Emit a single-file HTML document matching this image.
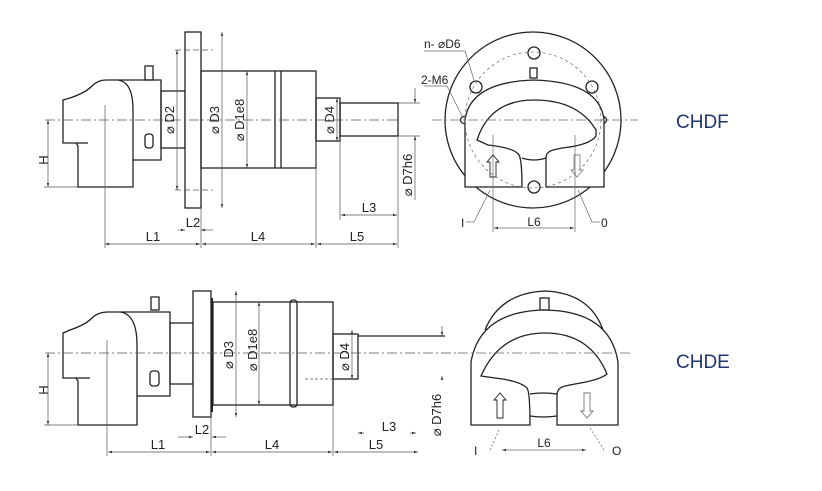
<!DOCTYPE html>
<html><head><meta charset="utf-8"><style>
html,body{margin:0;padding:0;background:#fff;}
svg{display:block}
text{font-family:"Liberation Sans",sans-serif;fill:#222;}
</style></head><body>
<svg width="822" height="491" viewBox="0 0 822 491" xmlns="http://www.w3.org/2000/svg">
<defs>
<marker id="a" viewBox="0 0 10 10" refX="10" refY="5" markerWidth="6" markerHeight="6" orient="auto-start-reverse"><path d="M0,2 L10,5 L0,8 z" fill="#333"/></marker>
</defs>
<g fill="none" stroke="#222" stroke-width="1.3">
<!-- TOP SIDE VIEW -->
<path d="M118,80 L161,80 L161,160 L133,160" fill="#fff"/>
<path d="M63,100 L70,98 Q85,93 92,86 Q98,80 106,80 L118,80 Q133,82 133,110 L133,187 L78,187 L78,146 L76,143 L63,143 Z" fill="#fff"/>
<line x1="76" y1="143" x2="88" y2="143"/>
<rect x="161" y="91" width="24" height="57"/>
<rect x="185" y="32" width="16" height="176" fill="#fff"/>
<rect x="201" y="71" width="115" height="97"/>
<line x1="275" y1="71" x2="275" y2="168"/><line x1="281" y1="71" x2="281" y2="168"/>
<rect x="316" y="98" width="24" height="43"/>
<rect x="340" y="103" width="58" height="33"/>
<rect x="145" y="66" width="8" height="14"/>
<rect x="145" y="134" width="8" height="14" rx="3"/>
</g>
<g fill="none" stroke="#555" stroke-width="0.7">
<line x1="45" y1="120" x2="400" y2="120" stroke-dasharray="10,3,2,3"/>
<line x1="105" y1="105" x2="105" y2="248"/>
<line x1="48" y1="120" x2="48" y2="187" marker-start="url(#a)" marker-end="url(#a)"/>
<line x1="44" y1="187" x2="78" y2="187"/>
<line x1="177" y1="50" x2="177" y2="190" marker-start="url(#a)" marker-end="url(#a)"/>
<line x1="175" y1="50" x2="213" y2="50" stroke-dasharray="6,3"/><line x1="175" y1="190" x2="213" y2="190" stroke-dasharray="6,3"/>
<line x1="222" y1="32" x2="222" y2="208" marker-start="url(#a)" marker-end="url(#a)"/>
<line x1="247" y1="71" x2="247" y2="168" marker-start="url(#a)" marker-end="url(#a)"/>
<line x1="337" y1="98" x2="337" y2="141" marker-start="url(#a)" marker-end="url(#a)"/>
<line x1="415" y1="88" x2="415" y2="103" marker-end="url(#a)"/><line x1="415" y1="136" x2="415" y2="200" marker-start="url(#a)"/>
<line x1="398" y1="103" x2="420" y2="103"/><line x1="398" y1="136" x2="420" y2="136"/>
<line x1="201" y1="208" x2="201" y2="248"/><line x1="316" y1="141" x2="316" y2="248"/><line x1="398" y1="136" x2="398" y2="248"/><line x1="340" y1="141" x2="340" y2="220"/>
<line x1="105" y1="244" x2="200" y2="244" marker-start="url(#a)" marker-end="url(#a)"/>
<line x1="202" y1="244" x2="315" y2="244" marker-start="url(#a)" marker-end="url(#a)"/>
<line x1="317" y1="244" x2="397" y2="244" marker-start="url(#a)" marker-end="url(#a)"/>
<line x1="178" y1="230" x2="185" y2="230" marker-end="url(#a)"/><line x1="201" y1="230" x2="213" y2="230" marker-start="url(#a)"/>
<line x1="341" y1="215" x2="397" y2="215" marker-start="url(#a)" marker-end="url(#a)"/>
</g>
<g font-size="13">
<text x="0" y="0" transform="translate(48,160) rotate(-90)" text-anchor="middle">H</text>
<text x="0" y="0" transform="translate(174,120) rotate(-90)" text-anchor="middle">⌀ D2</text>
<text x="0" y="0" transform="translate(219,120) rotate(-90)" text-anchor="middle">⌀ D3</text>
<text x="0" y="0" transform="translate(244,120) rotate(-90)" text-anchor="middle">⌀ D1e8</text>
<text x="0" y="0" transform="translate(334,120) rotate(-90)" text-anchor="middle">⌀ D4</text>
<text x="0" y="0" transform="translate(412,175) rotate(-90)" text-anchor="middle">⌀ D7h6</text>
<text x="153" y="241" text-anchor="middle">L1</text>
<text x="258" y="241" text-anchor="middle">L4</text>
<text x="357" y="241" text-anchor="middle">L5</text>
<text x="193" y="227" text-anchor="middle">L2</text>
<text x="369" y="212" text-anchor="middle">L3</text>
</g>
<!-- TOP END VIEW -->
<g fill="none" stroke="#222" stroke-width="1.3">
<circle cx="533" cy="120" r="88"/>
<circle cx="534" cy="53" r="6"/><circle cx="476" cy="87" r="6"/><circle cx="592" cy="87" r="6"/><circle cx="534" cy="187" r="6"/>
<circle cx="464" cy="120" r="3.5"/><circle cx="603" cy="120" r="3.5"/>
<rect x="530" y="68" width="7" height="10"/>
<path d="M465,187 L465,120 Q470,82 534,80 Q600,82 604,120 L604,187 L546,187 L546,158 Q546,152 553,150 L562,148 Q590,145 596,136 L596,130 Q578,100 534,100 Q490,100 477,140 L488,145 Q515,148 519,155 Q522,160 522,187 Z" fill="#fff"/>
<path d="M522,158 Q534,162 546,158"/>
<path d="M490,177 L490,162 L487,162 L493,155 L499,162 L496,162 L496,177 Z" stroke-width="0.9"/>
<path d="M574,155 L574,170 L571,170 L577,177 L583,170 L580,170 L580,155 Z" stroke="#888" stroke-width="0.9"/>
</g>
<g fill="none" stroke="#666" stroke-width="0.7">
<circle cx="533" cy="120" r="68" stroke-dasharray="3,3"/>
<line x1="432" y1="120" x2="638" y2="120" stroke-dasharray="10,3,2,3"/>
<line x1="424" y1="51" x2="465" y2="51"/><line x1="465" y1="51" x2="474" y2="80"/>
<line x1="424" y1="86" x2="447" y2="86"/><line x1="447" y1="86" x2="462" y2="116"/>
<line x1="493" y1="135" x2="493" y2="232"/><line x1="575" y1="135" x2="575" y2="232"/>
<line x1="494" y1="228" x2="574" y2="228" marker-start="url(#a)" marker-end="url(#a)"/>
<line x1="466" y1="222" x2="474" y2="222"/><line x1="474" y1="222" x2="490" y2="190"/>
<line x1="600" y1="222" x2="592" y2="222"/><line x1="592" y1="222" x2="578" y2="190"/>
</g>
<g font-size="12">
<text x="424" y="48">n- ⌀D6</text>
<text x="421" y="84">2-M6</text>
<text x="534" y="226" text-anchor="middle">L6</text>
<text x="461" y="227">I</text>
<text x="601" y="227">0</text>
</g>
<text x="676" y="128" font-size="19" style="fill:#1f3570">CHDF</text>
<!-- BOTTOM SIDE VIEW -->
<g fill="none" stroke="#222" stroke-width="1.3">
<path d="M120,312 L170,312 L170,396 L137,396" fill="#fff"/>
<path d="M63,333 L70,330 Q85,325 92,318 Q98,312 108,312 L120,312 Q137,314 137,345 L137,425 L78,425 L78,381 L76,378 L63,378 Z" fill="#fff"/>
<line x1="76" y1="378" x2="90" y2="378"/>
<rect x="170" y="323" width="23" height="61"/>
<rect x="193" y="291" width="18" height="126" fill="#fff"/>
<line x1="212" y1="298" x2="212" y2="412" stroke-width="2"/>
<rect x="213" y="302" width="120" height="103"/>
<rect x="290" y="300" width="7" height="107" rx="3"/>
<rect x="333" y="334" width="25" height="45"/>
<line x1="358" y1="336" x2="445" y2="336"/>
<rect x="151" y="297" width="8" height="13"/>
<rect x="150" y="371" width="9" height="15" rx="3"/>
</g>
<g fill="none" stroke="#555" stroke-width="0.7">
<line x1="45" y1="353" x2="460" y2="353" stroke-dasharray="10,3,2,3"/>
<line x1="107" y1="340" x2="107" y2="456"/>
<line x1="48" y1="353" x2="48" y2="425" marker-start="url(#a)" marker-end="url(#a)"/>
<line x1="44" y1="425" x2="78" y2="425"/>
<line x1="236" y1="291" x2="236" y2="417" marker-start="url(#a)" marker-end="url(#a)"/>
<line x1="259" y1="302" x2="259" y2="405" marker-start="url(#a)" marker-end="url(#a)"/>
<line x1="352" y1="330" x2="352" y2="379" marker-start="url(#a)" marker-end="url(#a)"/>
<line x1="305" y1="379" x2="333" y2="379" stroke-dasharray="3,2"/>
<line x1="442" y1="326" x2="442" y2="336" marker-end="url(#a)"/><line x1="442" y1="376" x2="442" y2="380" marker-start="url(#a)"/>
<line x1="211" y1="417" x2="211" y2="456"/><line x1="333" y1="405" x2="333" y2="456"/>
<line x1="108" y1="452" x2="210" y2="452" marker-start="url(#a)" marker-end="url(#a)"/>
<line x1="212" y1="452" x2="332" y2="452" marker-start="url(#a)" marker-end="url(#a)"/>
<line x1="334" y1="452" x2="418" y2="452" marker-start="url(#a)" marker-end="url(#a)"/>
<line x1="178" y1="437" x2="193" y2="437" marker-end="url(#a)"/><line x1="212" y1="437" x2="226" y2="437" marker-start="url(#a)"/>
<line x1="358" y1="433" x2="364" y2="433" marker-start="url(#a)"/>
<line x1="410" y1="433" x2="416" y2="433" marker-end="url(#a)"/>
</g>
<g font-size="13">
<text x="0" y="0" transform="translate(48,390) rotate(-90)" text-anchor="middle">H</text>
<text x="0" y="0" transform="translate(233,355) rotate(-90)" text-anchor="middle">⌀ D3</text>
<text x="0" y="0" transform="translate(257,350) rotate(-90)" text-anchor="middle">⌀ D1e8</text>
<text x="0" y="0" transform="translate(349,357) rotate(-90)" text-anchor="middle">⌀ D4</text>
<text x="0" y="0" transform="translate(441,415) rotate(-90)" text-anchor="middle">⌀ D7h6</text>
<text x="158" y="449" text-anchor="middle">L1</text>
<text x="272" y="449" text-anchor="middle">L4</text>
<text x="376" y="449" text-anchor="middle">L5</text>
<text x="202" y="434" text-anchor="middle">L2</text>
<text x="389" y="431" text-anchor="middle">L3</text>
</g>
<!-- BOTTOM END VIEW -->
<g fill="none" stroke="#222" stroke-width="1.3">
<path d="M485,330 Q500,293 545,291 Q590,293 603,330"/>
<rect x="540" y="298" width="9" height="12"/>
<path d="M471,425 L471,362 Q480,311 545,310 Q610,311 618,362 L618,425 L557,425 L557,395 Q557,388 565,386 L575,384 Q600,380 607,374 Q590,333 545,333 Q500,333 481,376 L495,378 Q520,381 527,388 Q530,392 530,425 Z" fill="#fff"/>
<path d="M530,394 Q543,392 557,394"/><path d="M530,416 Q543,418 557,416"/>
<path d="M497,418 L497,400 L494,400 L500,393 L506,400 L503,400 L503,418 Z" stroke-width="0.9"/>
<path d="M584,393 L584,411 L581,411 L587,418 L593,411 L590,411 L590,393 Z" stroke="#777" stroke-width="0.9"/>
</g>
<g fill="none" stroke="#666" stroke-width="0.7">
<line x1="458" y1="353" x2="632" y2="353" stroke-dasharray="10,3,2,3"/>
<line x1="502" y1="450" x2="586" y2="450" marker-start="url(#a)" marker-end="url(#a)"/>
<line x1="490" y1="450" x2="500" y2="428" stroke-dasharray="2,2"/>
<line x1="604" y1="450" x2="590" y2="428" stroke-dasharray="2,2"/>
</g>
<g font-size="12">
<text x="544" y="447" text-anchor="middle">L6</text>
<text x="474" y="455">I</text>
<text x="612" y="455">O</text>
</g>
<text x="676" y="368" font-size="19" style="fill:#1f3570">CHDE</text>
</svg>
</body></html>
